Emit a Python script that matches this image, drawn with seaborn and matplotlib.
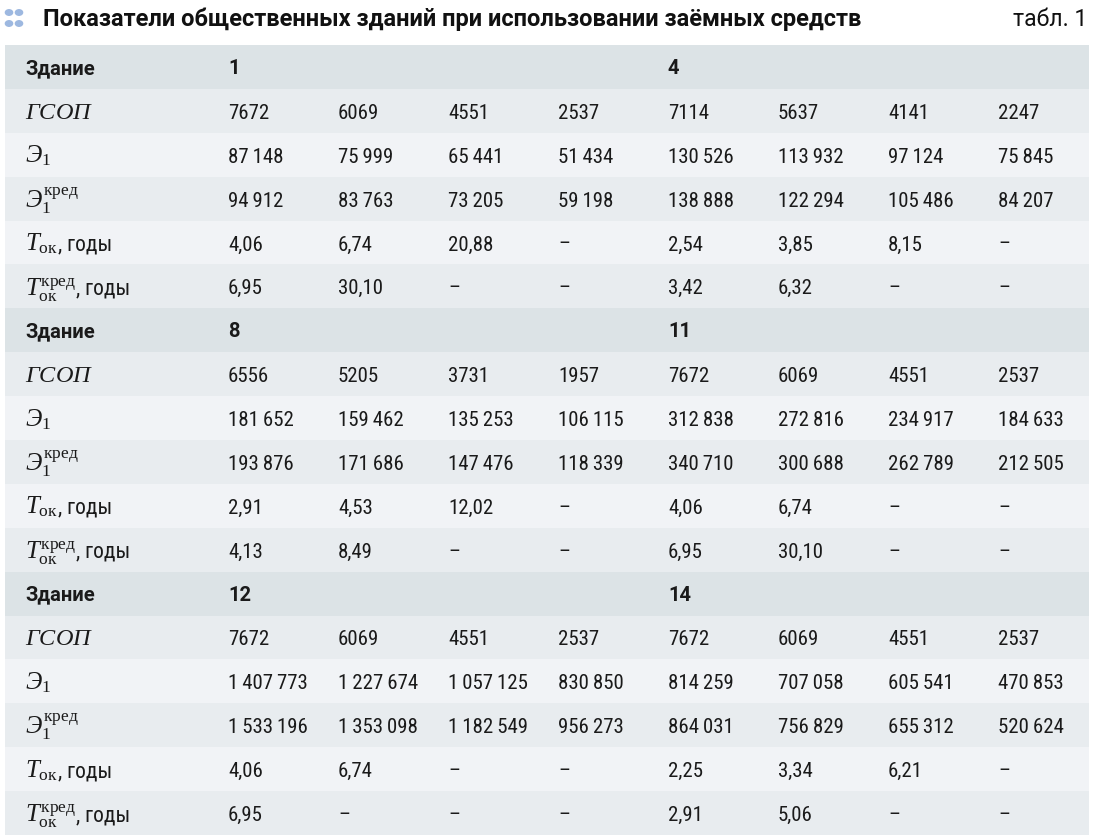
import matplotlib
matplotlib.use("Agg")
import matplotlib.pyplot as plt
import matplotlib.transforms as mtransforms
from matplotlib import font_manager
from matplotlib.colors import ListedColormap
from matplotlib.patches import Circle
import numpy as np
import seaborn as sns

# ---- data ----
TITLE = "Показатели общественных зданий при использовании заёмных средств"
TABLE_NO = "табл. 1"

building_pairs = [("1", "4"), ("8", "11"), ("12", "14")]

gsop = {
    "1": [7672, 6069, 4551, 2537],
    "4": [7114, 5637, 4141, 2247],
    "8": [6556, 5205, 3731, 1957],
    "11": [7672, 6069, 4551, 2537],
    "12": [7672, 6069, 4551, 2537],
    "14": [7672, 6069, 4551, 2537],
}
e1 = {
    "1": [87148, 75999, 65441, 51434],
    "4": [130526, 113932, 97124, 75845],
    "8": [181652, 159462, 135253, 106115],
    "11": [312838, 272816, 234917, 184633],
    "12": [1407773, 1227674, 1057125, 830850],
    "14": [814259, 707058, 605541, 470853],
}
e1_cred = {
    "1": [94912, 83763, 73205, 59198],
    "4": [138888, 122294, 105486, 84207],
    "8": [193876, 171686, 147476, 118339],
    "11": [340710, 300688, 262789, 212505],
    "12": [1533196, 1353098, 1182549, 956273],
    "14": [864031, 756829, 655312, 520624],
}
t_ok = {
    "1": [4.06, 6.74, 20.88, None],
    "4": [2.54, 3.85, 8.15, None],
    "8": [2.91, 4.53, 12.02, None],
    "11": [4.06, 6.74, None, None],
    "12": [4.06, 6.74, None, None],
    "14": [2.25, 3.34, 6.21, None],
}
t_ok_cred = {
    "1": [6.95, 30.10, None, None],
    "4": [3.42, 6.32, None, None],
    "8": [4.13, 8.49, None, None],
    "11": [6.95, 30.10, None, None],
    "12": [6.95, None, None, None],
    "14": [2.91, 5.06, None, None],
}

# (math part, plain suffix)
row_labels = [
    (r"$\mathit{ГСОП}$", ""),
    (r"$\mathit{Э}_{1}$", ""),
    (r"$\mathit{Э}_{1}^{\mathrm{кред}}$", ""),
    (r"$\mathit{T}_{\mathrm{ок}}$", ", годы"),
    (r"$\mathit{T}_{\mathrm{ок}}^{\mathrm{кред}}$", ", годы"),
]
metrics = [gsop, e1, e1_cred, t_ok, t_ok_cred]


def fmt(v):
    if v is None:
        return "–"
    if isinstance(v, float):
        return f"{v:.2f}".replace(".", ",")
    if v >= 10000:
        return f"{v:,}".replace(",", "\u2009")
    return str(v)


# ---- style ----
sns.set_theme(style="white")
plt.rcParams["font.family"] = ["Roboto", "DejaVu Sans"]
plt.rcParams["mathtext.fontset"] = "custom"
plt.rcParams["mathtext.rm"] = "Liberation Serif"
plt.rcParams["mathtext.it"] = "Liberation Serif:italic"
plt.rcParams["mathtext.bf"] = "Liberation Serif:bold"

# narrow face for the figures, if one is installed
NUM_FAMILY, NUM_SIZE = ["Roboto", "DejaVu Sans"], 14
for fam, size in [("Roboto Condensed", 15), ("Liberation Sans Narrow", 15.5),
                  ("Open Sans Condensed", 15)]:
    try:
        font_manager.findfont(font_manager.FontProperties(family=fam),
                              fallback_to_default=False)
        NUM_FAMILY, NUM_SIZE = [fam, "Roboto", "DejaVu Sans"], size
        break
    except Exception:
        pass

HDR, LIGHT, LIGHTER = "#dce3e6", "#e8ecef", "#f1f3f6"
TXT = "#1a1a1a"

W, H = 1093, 839
fig = plt.figure(figsize=(W / 100, H / 100), dpi=100)
fig.patch.set_facecolor("white")

# row kinds: 0 header, 1 light, 2 lighter
kinds = []
for _ in building_pairs:
    kinds += [0, 1, 2, 1, 2, 1]
kinds = np.array(kinds).reshape(-1, 1)

left, right, top, bottom = 5, 1089, 45, 835
ax = fig.add_axes([left / W, 1 - bottom / H, (right - left) / W, (bottom - top) / H])
sns.heatmap(kinds, ax=ax, cmap=ListedColormap([HDR, LIGHT, LIGHTER]),
            vmin=-0.5, vmax=2.5, cbar=False, xticklabels=False, yticklabels=False)
ax.set_axis_off()

tr = mtransforms.blended_transform_factory(ax.transAxes, ax.transData)


def xfrac(px):
    return (px - left) / (right - left)


label_x = xfrac(25)
col_x = [xfrac(228 + 110 * j) for j in range(8)]
BASE = 0.68  # baseline inside a row (row units, downward)

suffixes = []
r = 0
for bl, br in building_pairs:
    y = r + BASE - 0.02
    ax.text(label_x, y, "Здание", transform=tr, fontsize=14.5, fontweight="bold",
            color=TXT, va="baseline")
    ax.text(col_x[0], y, bl, transform=tr, fontsize=14.5, fontweight="bold",
            color=TXT, va="baseline")
    ax.text(col_x[4], y, br, transform=tr, fontsize=14.5, fontweight="bold",
            color=TXT, va="baseline")
    r += 1
    for (lab, suf), data in zip(row_labels, metrics):
        y = r + BASE
        size = 17.5 if "ГСОП" in lab else 18
        t = ax.text(label_x, y + (0.03 if "кред" in lab else 0), lab, transform=tr,
                    fontsize=size, color=TXT, va="baseline")
        if suf:
            suffixes.append((t, suf, y))
        vals = data[bl] + data[br]
        for j, v in enumerate(vals):
            ax.text(col_x[j], y, fmt(v), transform=tr, fontsize=NUM_SIZE,
                    family=NUM_FAMILY, color=TXT, va="baseline")
        r += 1

# put ", годы" right after the math label
fig.canvas.draw()
renderer = fig.canvas.get_renderer()
ax_bb = ax.get_window_extent(renderer)
for t, suf, y in suffixes:
    bb = t.get_window_extent(renderer)
    ax.text((bb.x1 - ax_bb.x0) / ax_bb.width, y, suf, transform=tr,
            fontsize=NUM_SIZE + 0.5, family=NUM_FAMILY, color=TXT, va="baseline")

# title line
for cx, cy in [(9, 12.5), (19, 12.5), (9, 23.5), (19, 23.5)]:
    fig.patches.append(Circle((cx / W, 1 - cy / H), 3.6 / W, transform=fig.transFigure,
                              color="#9db8e0"))
fig.text(43 / W, 1 - 26 / H, TITLE, fontsize=17, fontweight="bold", color="#111111",
         va="baseline", ha="left")
fig.text(1087 / W, 1 - 26 / H, TABLE_NO, fontsize=16.5, color="#111111",
         va="baseline", ha="right")

fig.savefig("out.png", dpi=100)
plt.close(fig)
